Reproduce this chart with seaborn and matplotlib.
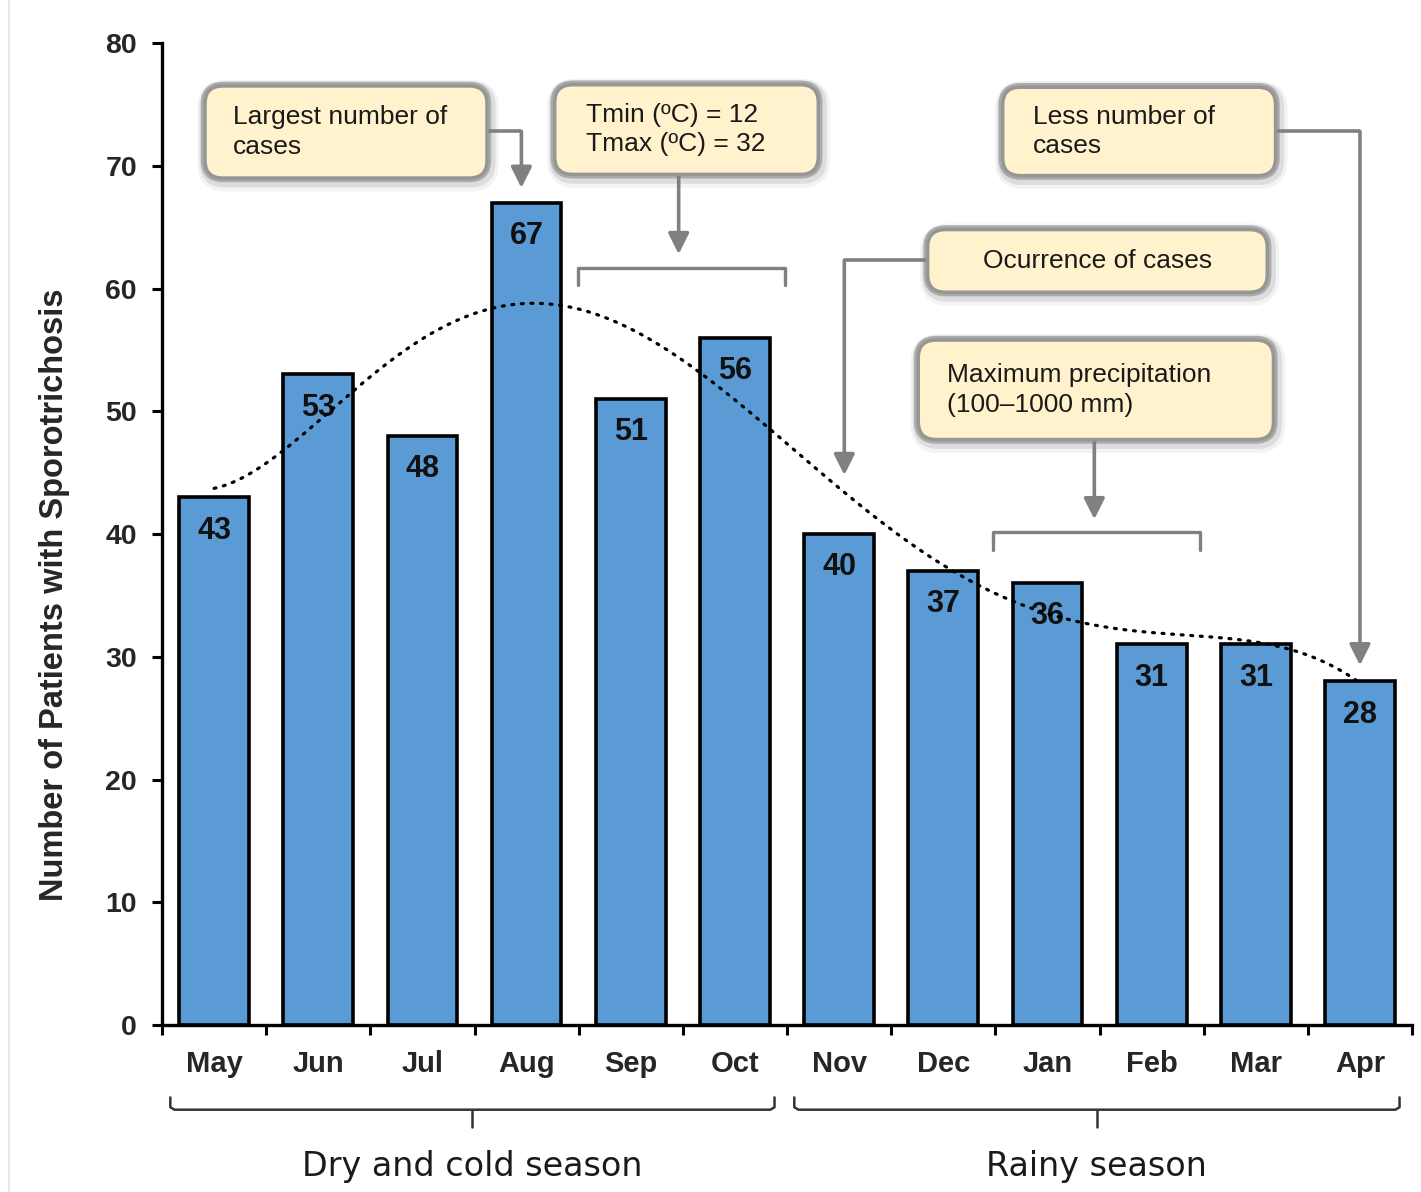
import numpy as np
import pandas as pd
import matplotlib
matplotlib.use("Agg")
import matplotlib.pyplot as plt
from matplotlib.patches import FancyBboxPatch
from matplotlib.lines import Line2D
import seaborn as sns

# Monthly sporotrichosis cases
months = ["May", "Jun", "Jul", "Aug", "Sep", "Oct",
          "Nov", "Dec", "Jan", "Feb", "Mar", "Apr"]
cases = [43, 53, 48, 67, 51, 56, 40, 37, 36, 31, 31, 28]
y_ticks = [0, 10, 20, 30, 40, 50, 60, 70, 80]
seasons = ["Dry and cold season", "Rainy season"]

df = pd.DataFrame({"month": months, "cases": cases})

sns.set_theme(style="ticks")
plt.rcParams["font.family"] = ["Liberation Sans", "DejaVu Sans"]

fig = plt.figure(figsize=(14.21, 11.92), dpi=100)
ax = fig.add_axes([0.114, 0.1401, 0.8797, 0.8238])

BAR = "#5B9BD5"
sns.barplot(data=df, x="month", y="cases", color=BAR, saturation=1,
            edgecolor="black", linewidth=2.6, width=0.67, ax=ax, zorder=2)

ax.set_xlim(-0.5, len(months) - 0.5)
ax.set_ylim(0, 80)
ax.set_yticks(y_ticks)
ax.set_yticklabels([str(v) for v in y_ticks], fontsize=20.5, fontweight="bold")
ax.set_xticks(range(len(months)))
ax.set_xticklabels(months, fontsize=21, fontweight="bold")
ax.set_xticks(np.arange(-0.5, len(months)), minor=True)
ax.tick_params(axis="x", which="major", length=0, pad=18)
ax.tick_params(axis="x", which="minor", length=7, width=2.2, direction="out", color="black")
ax.tick_params(axis="y", length=7, width=2.2, direction="out", color="black", pad=11)
for s in ["top", "right"]:
    ax.spines[s].set_visible(False)
for s in ["left", "bottom"]:
    ax.spines[s].set_linewidth(2.4)
    ax.spines[s].set_color("black")

ax.set_xlabel("")
ax.set_ylabel("Number of Patients with Sporotrichosis", fontsize=23.5, fontweight="bold")
ax.yaxis.set_label_coords(-0.0736, 0.438)

# value labels inside the top of each bar
for i, v in enumerate(cases):
    ax.annotate(str(v), xy=(i, v), xytext=(0, -24), textcoords="offset points",
                ha="center", va="center", fontsize=22, fontweight="bold",
                color="#111111", zorder=4)

# polynomial trend line (order 6) through the monthly counts
xs = np.arange(1, len(cases) + 1)
coef = np.polyfit(xs, cases, 6)
xf = np.linspace(1, len(cases), 300)
ax.plot(xf - 1, np.polyval(coef, xf), color="black", lw=2.3,
        linestyle=(0, (0.6, 2.4)), dash_capstyle="round", zorder=5, clip_on=False)

# callout boxes
ASPECT = (1250 / 12) / (982 / 80)
GRAY = "#808080"
FILL = "#FFF2CC"


def note_box(x0, x1, y0, y1, text, ha="left", tx=None):
    for lw, a, dx, dy in [(14, 0.08, 0.02, -0.3), (10, 0.16, 0.015, -0.2), (6, 0.45, 0.0, 0.0)]:
        p = FancyBboxPatch((x0 + dx, y0 + dy), x1 - x0, y1 - y0,
                           boxstyle="round,pad=0,rounding_size=0.17",
                           mutation_aspect=ASPECT, facecolor="none",
                           edgecolor="#6e6e6e", lw=lw, alpha=a,
                           zorder=6, clip_on=False)
        ax.add_patch(p)
    p = FancyBboxPatch((x0, y0), x1 - x0, y1 - y0,
                       boxstyle="round,pad=0,rounding_size=0.17",
                       mutation_aspect=ASPECT, facecolor=FILL,
                       edgecolor="#969696", lw=2.5, zorder=7, clip_on=False)
    ax.add_patch(p)
    if tx is None:
        tx = (x0 + x1) / 2 if ha == "center" else x0 + 0.27
    ax.text(tx, (y0 + y1) / 2, text, ha=ha, va="center", fontsize=19,
            color="#1a1a1a", linespacing=1.3, zorder=8, clip_on=False)


def elbow(points):
    xs_, ys_ = zip(*points[:-1])
    ax.plot(xs_, ys_, color=GRAY, lw=2.6, zorder=6, clip_on=False,
            solid_capstyle="butt")
    ax.annotate("", xy=points[-1], xytext=points[-2],
                arrowprops=dict(arrowstyle="-|>,head_length=0.9,head_width=0.45",
                                mutation_scale=14, color=GRAY, lw=2.6,
                                shrinkA=0, shrinkB=0),
                zorder=6, annotation_clip=False)


def bracket(x0, x1, ytop, ybot):
    ax.plot([x0, x0, x1, x1], [ybot, ytop, ytop, ybot], color=GRAY, lw=2.4,
            zorder=6, clip_on=False, solid_joinstyle="round")


note_box(-0.087, 2.62, 69.0, 76.5, "Largest number of\ncases")
elbow([(2.62, 72.8), (2.95, 72.8), (2.95, 68.2)])

note_box(3.27, 5.80, 69.3, 76.6, "Tmin (ºC) = 12\nTmax (ºC) = 32", tx=3.57)
elbow([(4.46, 69.3), (4.46, 62.8)])
bracket(3.49, 5.48, 61.7, 60.3)

note_box(6.85, 10.11, 59.7, 64.8, "Ocurrence of cases", ha="center")
elbow([(6.85, 62.3), (6.05, 62.3), (6.05, 44.8)])

note_box(6.76, 10.17, 47.7, 55.8, "Maximum precipitation\n(100\u20131000 mm)", tx=7.04)
elbow([(8.45, 47.7), (8.45, 41.2)])
bracket(7.48, 9.46, 40.2, 38.7)

note_box(7.57, 10.19, 69.2, 76.4, "Less number of\ncases", tx=7.86)
elbow([(10.19, 72.8), (11.0, 72.8), (11.0, 29.3)])


# season braces under the month labels
def season_brace(x0, x1, label):
    ytop, ybot, ytip = -5.9, -6.9, -8.3
    xc = (x0 + x1) / 2
    ax.plot([x0, x0, x0 + 0.04, x1 - 0.04, x1, x1],
            [ytop, ybot + 0.2, ybot, ybot, ybot + 0.2, ytop],
            color="#333333", lw=1.8, clip_on=False, solid_joinstyle="round")
    ax.plot([xc, xc], [ybot, ytip], color="#333333", lw=1.8, clip_on=False)
    ax.text(xc, -11.5, label, ha="center", va="center", fontsize=24,
            family="DejaVu Sans", color="#1a1a1a", clip_on=False)


season_brace(-0.42, 5.38, seasons[0])
season_brace(5.57, 11.38, seasons[1])

# faint frame line at the left edge
fig.add_artist(Line2D([0.0065, 0.0065], [0, 1], transform=fig.transFigure,
                      color="#e2e2e2", lw=1.2))

fig.savefig("out.png", dpi=100, facecolor="white")
